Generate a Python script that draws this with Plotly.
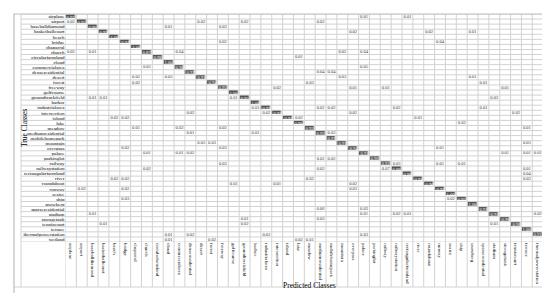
import plotly.graph_objects as go

W, H = 550, 293

classes = ["airplane", "airport", "baseballdiamond", "basketballcourt", "beach", "bridge",
           "chaparral", "church", "circularfarmland", "cloud", "commercialarea",
           "denseresidential", "desert", "forest", "freeway", "golfcourse",
           "groundtrackfield", "harbor", "industrialarea", "intersection", "island", "lake",
           "meadow", "mediumresidential", "mobilehomepark", "mountain", "overpass", "palace",
           "parkinglot", "railway", "railwaystation", "rectangularfarmland", "river",
           "roundabout", "runway", "seaice", "ship", "snowberg", "sparseresidential",
           "stadium", "storagetank", "tenniscourt", "terrace", "thermalpowerstation", "wetland"]

# diagonal (correct) rates, one per class
diag = [0.97, 0.92, 0.96, 0.95, 1.00, 0.94, 1.00, 0.87, 0.98, 1.00, 0.90, 0.92, 0.91, 0.94,
        0.95, 1.00, 0.95, 1.00, 0.92, 0.92, 0.93, 0.96, 0.92, 0.93, 0.97, 0.91, 0.94, 0.93,
        0.96, 0.92, 0.88, 0.96, 0.91, 0.96, 0.93, 1.00, 0.95, 1.00, 0.91, 0.93, 0.96, 0.96,
        1.00, 0.91, 0.94]

# off-diagonal confusions: true row, predicted column, rate
off_true = [0, 0, 1, 1, 1, 1, 2, 2, 3, 3, 3, 5, 5, 7, 7, 7, 7, 7, 8, 8, 10, 10, 11, 11,
            12, 12, 12, 12, 13, 13, 13, 14, 14, 14, 14, 16, 16, 16, 16, 18, 18, 18, 18, 18,
            19, 19, 19, 19, 20, 20, 20, 20, 21, 21, 22, 22, 22, 22, 22, 23, 23, 23, 23,
            25, 25, 25, 26, 26, 26, 27, 27, 27, 27, 27, 27, 28, 28, 29, 29, 29, 29,
            30, 30, 30, 30, 31, 32, 32, 32, 32, 33, 33, 33, 34, 34, 34, 36, 36, 38, 38,
            39, 39, 39, 39, 39, 40, 40, 41, 41, 41, 43, 43, 43, 43, 44, 44, 44, 44]
off_pred = [27, 31, 0, 12, 16, 23, 9, 14, 26, 33, 37, 14, 34, 0, 2, 10, 25, 27, 21, 44, 7, 27,
            23, 24, 6, 9, 25, 37, 6, 22, 38, 19, 26, 29, 40, 2, 3, 15, 39, 17, 23, 24, 30, 38,
            11, 18, 26, 41, 4, 5, 21, 32, 36, 44, 6, 10, 14, 42, 44, 11, 17, 24, 44,
            12, 13, 42, 5, 14, 34, 7, 10, 11, 40, 42, 43, 23, 24, 14, 30, 34, 36,
            7, 23, 29, 42, 42, 4, 5, 22, 42, 15, 19, 26, 1, 5, 26, 5, 35, 23, 27,
            2, 27, 30, 31, 43, 16, 23, 3, 16, 39, 9, 11, 18, 27, 9, 13, 21, 22]
off_rate = [0.01, 0.01, 0.02, 0.02, 0.02, 0.02, 0.01, 0.03, 0.02, 0.02, 0.01, 0.02, 0.04,
            0.02, 0.01, 0.04, 0.02, 0.04, 0.01, 0.01, 0.05, 0.05, 0.04, 0.04,
            0.02, 0.03, 0.03, 0.01, 0.02, 0.03, 0.01, 0.02, 0.01, 0.01, 0.01,
            0.01, 0.01, 0.01, 0.02, 0.01, 0.02, 0.02, 0.02, 0.01,
            0.02, 0.02, 0.02, 0.02, 0.02, 0.02, 0.02, 0.01, 0.02, 0.02,
            0.01, 0.02, 0.02, 0.01, 0.01, 0.01, 0.01, 0.03, 0.02,
            0.03, 0.03, 0.03, 0.02, 0.03, 0.01, 0.01, 0.01, 0.02, 0.01, 0.01, 0.01,
            0.02, 0.02, 0.03, 0.03, 0.01, 0.01, 0.02, 0.02, 0.07, 0.01, 0.04,
            0.02, 0.02, 0.02, 0.03, 0.01, 0.01, 0.02, 0.02, 0.02, 0.03, 0.03, 0.02,
            0.06, 0.03, 0.01, 0.01, 0.02, 0.01, 0.02, 0.01, 0.03, 0.01, 0.02, 0.01,
            0.01, 0.02, 0.03, 0.03, 0.01, 0.02, 0.02, 0.01]

n = len(classes)
z_diag = [[diag[i] if i == j else None for j in range(n)] for i in range(n)]

# pixel layout of the table
gx0, gx1, gy0, gy1 = 57.5, 546, 6, 234
px = lambda v: v / W
py = lambda v: 1 - v / H
line_col = "#d2d2d2"
serif = "Liberation Serif"

fig = go.Figure()
fig.add_trace(go.Heatmap(
    x=list(range(n)), y=list(range(n)), z=z_diag,
    colorscale=[[0, "#555555"], [1, "#555555"]], showscale=False,
    xgap=1.6, ygap=1.1, texttemplate="%{z:.2f}",
    textfont=dict(size=4.5, color="white", family=serif), hoverinfo="skip"))
fig.add_trace(go.Scatter(
    x=off_pred, y=off_true, mode="text", text=[f"{v:.2f}" for v in off_rate],
    textfont=dict(size=4.5, color="#333333", family=serif), hoverinfo="skip",
    cliponaxis=False, showlegend=False))

shapes = []
for k in range(n + 1):
    shapes.append(dict(type="line", xref="x", yref="paper", x0=k - 0.5, x1=k - 0.5,
                       y0=py(gy0), y1=py(279), line=dict(color=line_col, width=1)))
    shapes.append(dict(type="line", xref="paper", yref="y", x0=px(13), x1=px(gx1),
                       y0=k - 0.5, y1=k - 0.5, line=dict(color=line_col, width=1)))
shapes.append(dict(type="line", xref="paper", yref="paper", x0=px(13), x1=px(13),
                   y0=py(6), y1=py(279), line=dict(color=line_col, width=1)))
shapes.append(dict(type="line", xref="paper", yref="paper", x0=px(6), x1=px(gx1),
                   y0=py(279), y1=py(279), line=dict(color=line_col, width=1)))
shapes.append(dict(type="rect", xref="paper", yref="paper", x0=px(6), x1=px(gx1),
                   y0=py(6), y1=py(289), line=dict(color="#bdbdbd", width=1.2)))

fig.update_layout(
    template="none", font=dict(family=serif, color="black"),
    width=W, height=H, margin=dict(l=0, r=0, t=0, b=0),
    paper_bgcolor="white", plot_bgcolor="rgba(0,0,0,0)", shapes=shapes,
    annotations=[
        dict(text="True Classes", x=px(9.5), y=py(120), xref="paper", yref="paper",
             textangle=-90, showarrow=False, font=dict(size=7.5, family=serif, color="black")),
        dict(text="Predicted Classes", x=px(301), y=py(284), xref="paper", yref="paper",
             showarrow=False, font=dict(size=7.5, family=serif, color="black")),
    ])
fig.update_xaxes(domain=[px(gx0), px(gx1)], range=[-0.5, n - 0.5], showgrid=False,
                 zeroline=False, showline=False, ticks="", tickmode="array",
                 tickvals=list(range(n)), ticktext=classes, tickangle=90,
                 tickfont=dict(size=5, family=serif, color="black"), fixedrange=True)
fig.update_yaxes(domain=[py(gy1), py(gy0)], range=[n - 0.5, -0.5], showgrid=False,
                 zeroline=False, showline=False, ticks="", tickmode="array",
                 tickvals=list(range(n)), ticktext=classes,
                 tickfont=dict(size=5, family=serif, color="black"), fixedrange=True)

fig.write_html("out.html")
